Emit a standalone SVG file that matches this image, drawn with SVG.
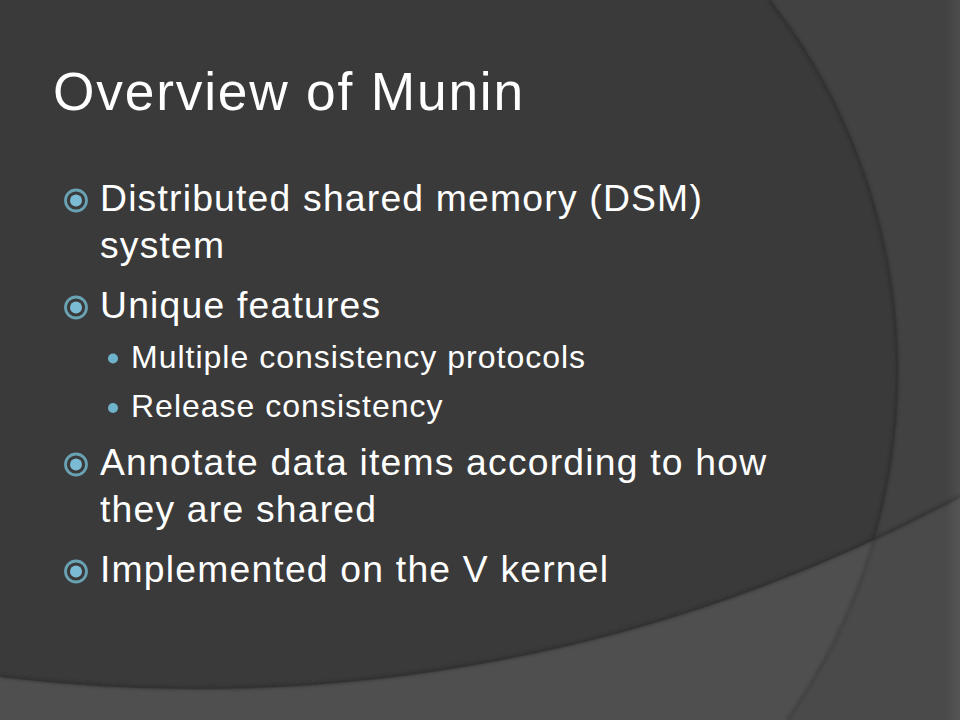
<svg xmlns="http://www.w3.org/2000/svg" width="960" height="720" viewBox="0 0 960 720">
  <style>
    .title { font-family: "Liberation Sans", Arial, sans-serif; font-size: 53.3px; fill: #ffffff; letter-spacing: 1.8px; }
    .l1 { font-family: "Liberation Sans", Arial, sans-serif; font-size: 37.3px; fill: #ffffff; letter-spacing: 1.2px; }
    .l2 { font-family: "Liberation Sans", Arial, sans-serif; font-size: 32px; fill: #ffffff; letter-spacing: 1px; }
    .ring { fill: none; stroke: #68a2b3; stroke-width: 2.8; }
    .dot { fill: #7bbcd4; }
    .sdot { fill: #6fb3cb; }
  </style>
  <defs>
    <filter id="blur" x="-5%" y="-5%" width="110%" height="110%">
      <feGaussianBlur stdDeviation="1.5"/>
    </filter>
    <clipPath id="lowerClip">
      <path d="M0,677 A1611,1611 0 0 0 960,497 L960,720 L0,720 Z"/>
    </clipPath>
    <linearGradient id="edgeR" x1="0" y1="0" x2="1" y2="0">
      <stop offset="0" stop-color="#ffffff" stop-opacity="0"/>
      <stop offset="1" stop-color="#ffffff" stop-opacity="0.06"/>
    </linearGradient>
  </defs>

  <!-- background -->
  <g id="background">
    <rect x="0" y="0" width="960" height="720" fill="#3a3a3a"/>
    <path d="M770,0 A602.5,602.5 0 0 1 787,720 L960,720 L960,0 Z" fill="#424242"/>
    <path d="M770,0 A602.5,602.5 0 0 1 787,720" fill="none" stroke="#2a2a2a" stroke-width="3" opacity="0.7" filter="url(#blur)" transform="translate(-1,0)"/>
    <path d="M0,677 A1611,1611 0 0 0 960,497 L960,720 L0,720 Z" fill="#4f4f4f"/>
    <g clip-path="url(#lowerClip)">
      <path d="M770,0 A602.5,602.5 0 0 1 787,720 L960,720 L960,0 Z" fill="#000000" opacity="0.05"/>
      <path d="M770,0 A602.5,602.5 0 0 1 787,720" fill="none" stroke="#3a3a3a" stroke-width="2" opacity="0.8" filter="url(#blur)"/>
    </g>
    <path d="M0,677 A1611,1611 0 0 0 960,497" fill="none" stroke="#2c2c2c" stroke-width="3" opacity="0.7" filter="url(#blur)" transform="translate(0,-1)"/>
    <rect x="945" y="0" width="15" height="720" fill="url(#edgeR)"/>
  </g>

  <!-- title -->
  <g id="title">
    <text class="title" x="53" y="110">Overview of Munin</text>
  </g>

  <!-- bullets -->
  <g id="bullet-dsm">
    <circle class="ring" cx="76" cy="200.5" r="10.5"/>
    <circle class="dot" cx="76" cy="200.5" r="6"/>
    <text class="l1" x="100" y="211">Distributed shared memory (DSM)</text>
    <text class="l1" x="100" y="258">system</text>
  </g>
  <g id="bullet-unique">
    <circle class="ring" cx="76" cy="307.5" r="10.5"/>
    <circle class="dot" cx="76" cy="307.5" r="6"/>
    <text class="l1" x="100" y="318">Unique features</text>
  </g>
  <g id="sub-multiple">
    <circle class="sdot" cx="113" cy="358.5" r="5"/>
    <text class="l2" x="131" y="368">Multiple consistency protocols</text>
  </g>
  <g id="sub-release">
    <circle class="sdot" cx="113" cy="408" r="5"/>
    <text class="l2" x="131" y="417">Release consistency</text>
  </g>
  <g id="bullet-annotate">
    <circle class="ring" cx="76" cy="464.5" r="10.5"/>
    <circle class="dot" cx="76" cy="464.5" r="6"/>
    <text class="l1" x="100" y="475">Annotate data items according to how</text>
    <text class="l1" x="100" y="522">they are shared</text>
  </g>
  <g id="bullet-vkernel">
    <circle class="ring" cx="76" cy="571.5" r="10.5"/>
    <circle class="dot" cx="76" cy="571.5" r="6"/>
    <text class="l1" x="100" y="582">Implemented on the V kernel</text>
  </g>
</svg>
